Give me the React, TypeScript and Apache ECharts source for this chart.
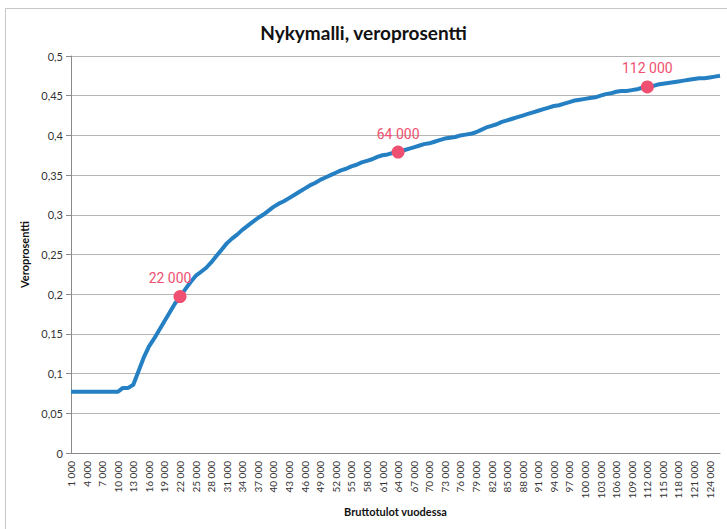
import React, { useEffect, useRef } from "react";
import * as echarts from "echarts";

const incomes: number[] = [
  1000, 2000, 3000, 4000, 5000, 6000, 7000, 8000, 9000, 10000,
  11000, 12000, 13000, 14000, 15000, 16000, 17000, 18000, 19000, 20000,
  21000, 22000, 23000, 24000, 25000, 26000, 27000, 28000, 29000, 30000,
  31000, 32000, 33000, 34000, 35000, 36000, 37000, 38000, 39000, 40000,
  41000, 42000, 43000, 44000, 45000, 46000, 47000, 48000, 49000, 50000,
  51000, 52000, 53000, 54000, 55000, 56000, 57000, 58000, 59000, 60000,
  61000, 62000, 63000, 64000, 65000, 66000, 67000, 68000, 69000, 70000,
  71000, 72000, 73000, 74000, 75000, 76000, 77000, 78000, 79000, 80000,
  81000, 82000, 83000, 84000, 85000, 86000, 87000, 88000, 89000, 90000,
  91000, 92000, 93000, 94000, 95000, 96000, 97000, 98000, 99000, 100000,
  101000, 102000, 103000, 104000, 105000, 106000, 107000, 108000, 109000, 110000,
  111000, 112000, 113000, 114000, 115000, 116000, 117000, 118000, 119000, 120000,
  121000, 122000, 123000, 124000, 125000, 126000,
];

const taxRate: number[] = [
  0.077, 0.077, 0.077, 0.077, 0.077, 0.077, 0.077, 0.077, 0.077, 0.077,
  0.082, 0.082, 0.086, 0.103, 0.12, 0.134, 0.144, 0.155, 0.166, 0.177,
  0.188, 0.197, 0.206, 0.215, 0.223, 0.228, 0.233, 0.24, 0.248, 0.256,
  0.264, 0.27, 0.275, 0.281, 0.286, 0.291, 0.296, 0.3, 0.305, 0.31,
  0.314, 0.317, 0.321, 0.325, 0.329, 0.333, 0.337, 0.34, 0.344, 0.347,
  0.35, 0.353, 0.356, 0.358, 0.361, 0.363, 0.366, 0.368, 0.37, 0.373,
  0.375, 0.376, 0.378, 0.379, 0.381, 0.383, 0.385, 0.387, 0.389, 0.39,
  0.392, 0.394, 0.396, 0.397, 0.398, 0.4, 0.401, 0.402, 0.404, 0.407,
  0.41, 0.412, 0.414, 0.417, 0.419, 0.421, 0.423, 0.425, 0.427, 0.429,
  0.431, 0.433, 0.435, 0.437, 0.438, 0.44, 0.442, 0.444, 0.445, 0.446,
  0.447, 0.448, 0.45, 0.452, 0.453, 0.455, 0.456, 0.456, 0.457, 0.458,
  0.46, 0.461, 0.462, 0.464, 0.465, 0.466, 0.467, 0.468, 0.469, 0.47,
  0.471, 0.472, 0.472, 0.473, 0.474, 0.475,
];

const highlighted: number[] = [22000, 64000, 112000];

const fmt = (n: number) => {
  const s = String(n);
  return s.length > 3 ? s.slice(0, s.length - 3) + " " + s.slice(s.length - 3) : s;
};

const categories: string[] = incomes.map(fmt);

export default function App() {
  const ref = useRef<HTMLDivElement>(null);
  useEffect(() => {
    document.body.style.margin = "0";
    const chart = echarts.init(ref.current!, undefined, { renderer: "svg" });
    const markData = highlighted.map((inc, k) => {
      const idx = incomes.indexOf(inc);
      return {
        coord: [categories[idx], taxRate[idx]],
        value: fmt(inc),
        label: { offset: k === 0 ? [-10, 0] : [0, 0] },
      };
    });
    chart.setOption({
      animation: false,
      backgroundColor: "#ffffff",
      title: {
        text: "Nykymalli, veroprosentti",
        left: "center",
        top: 18,
        textStyle: {
          fontFamily: "Lato",
          fontWeight: "bold",
          fontSize: 19,
          color: "#111",
        },
      },
      graphic: [
        {
          type: "rect",
          shape: { x: 5.5, y: 8.5, width: 740, height: 540 },
          style: { fill: "none", stroke: "#c8c8c8", lineWidth: 1 },
          silent: true,
        },
      ],
      grid: { left: 71, right: 7, top: 56, bottom: 76, containLabel: false },
      xAxis: {
        type: "category",
        data: categories,
        boundaryGap: false,
        name: "Bruttotulot vuodessa",
        nameLocation: "middle",
        nameGap: 52,
        nameTextStyle: {
          fontFamily: "Lato",
          fontWeight: "bold",
          fontSize: 11,
          color: "#111",
        },
        axisLine: { lineStyle: { color: "#8a8a8a", width: 1 } },
        axisTick: { show: false },
        axisLabel: {
          interval: 2,
          rotate: 90,
          fontFamily: "Lato",
          fontSize: 10,
          color: "#333",
          margin: 8,
        },
        splitLine: { show: false },
      },
      yAxis: {
        type: "value",
        min: 0,
        max: 0.5,
        interval: 0.05,
        name: "Veroprosentti",
        nameLocation: "middle",
        nameGap: 38,
        nameRotate: 90,
        nameTextStyle: {
          fontFamily: "Lato",
          fontWeight: "bold",
          fontSize: 11,
          color: "#111",
        },
        axisLine: { show: true, lineStyle: { color: "#8a8a8a", width: 1 } },
        axisTick: { show: true, length: 5, lineStyle: { color: "#8a8a8a" } },
        axisLabel: {
          fontFamily: "Lato",
          fontSize: 11,
          color: "#333",
          margin: 8,
          formatter: (v: number) =>
            String(Math.round(v * 100) / 100).replace(".", ","),
        },
        splitLine: { lineStyle: { color: "#b4b4b4", width: 1 } },
      },
      series: [
        {
          type: "line",
          data: taxRate,
          showSymbol: false,
          symbol: "none",
          lineStyle: { color: "#2480c3", width: 4 },
          markPoint: {
            symbol: "circle",
            symbolSize: 13,
            itemStyle: { color: "#ef4f70" },
            label: {
              show: true,
              position: "top",
              distance: 5,
              fontFamily: "Roboto",
              fontSize: 14,
              color: "#ef4f70",
              formatter: (p: any) => p.value,
            },
            data: markData,
          },
        },
      ],
    });
    return () => chart.dispose();
  }, []);
  return <div ref={ref} style={{ width: 727, height: 529 }} />;
}
